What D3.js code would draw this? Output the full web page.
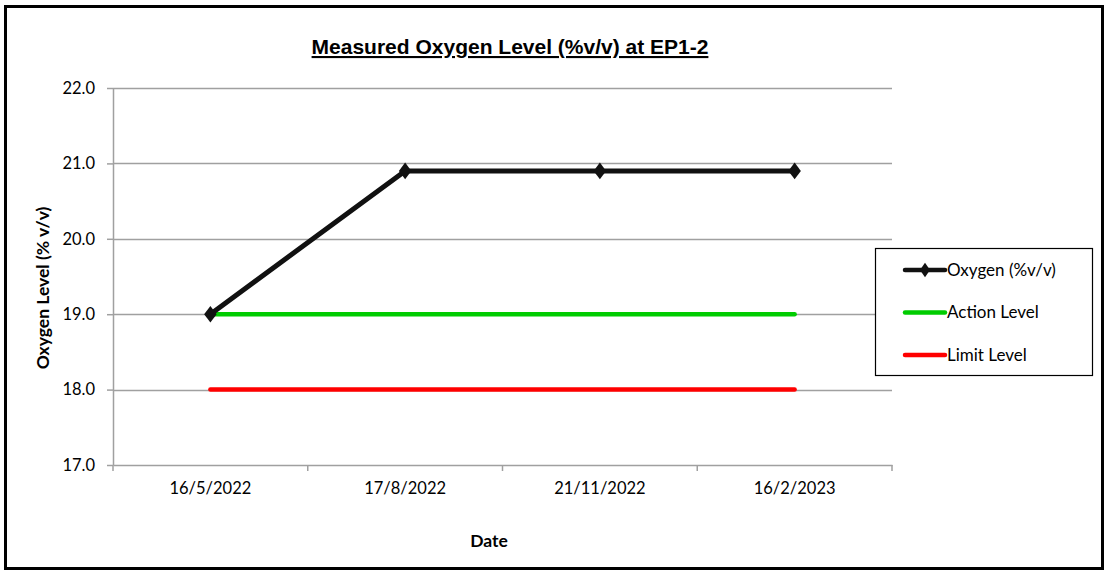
<!DOCTYPE html>
<html>
<head>
<meta charset="utf-8">
<script src="https://cdn.jsdelivr.net/npm/d3@7"></script>
<style>
  body { margin: 0; background: #fff; }
  text { fill: #000; }
</style>
</head>
<body>
<div id="chart"></div>
<script>
// Data
var dates = ["16/5/2022", "17/8/2022", "21/11/2022", "16/2/2023"];
var oxygen = [19.0, 20.9, 20.9, 20.9];
var actionLevel = [19.0, 19.0, 19.0, 19.0];
var limitLevel = [18.0, 18.0, 18.0, 18.0];
var yTicks = [17.0, 18.0, 19.0, 20.0, 21.0, 22.0];
var legendLabels = ["Oxygen (%v/v)", "Action Level", "Limit Level"];

var width = 1105, height = 572;
var plot = {left: 113, right: 892, top: 88, bottom: 465};
var bodyFont = "Lato, 'Open Sans', sans-serif";

var svg = d3.select("#chart").append("svg")
  .attr("width", width)
  .attr("height", height);

// outer frame
svg.append("rect")
  .attr("x", 5.5).attr("y", 6.5)
  .attr("width", 1097).attr("height", 562)
  .attr("fill", "#fff")
  .attr("stroke", "#000")
  .attr("stroke-width", 3);

var x = d3.scaleBand().domain(dates).range([plot.left, plot.right]);
var y = d3.scaleLinear().domain([17, 22]).range([plot.bottom, plot.top]);

// gridlines
svg.append("g")
  .selectAll("line")
  .data(yTicks.filter(function(d){ return d > 17; }))
  .enter().append("line")
  .attr("x1", plot.left).attr("x2", plot.right)
  .attr("y1", function(d){ return Math.round(y(d)) + 0.5; })
  .attr("y2", function(d){ return Math.round(y(d)) + 0.5; })
  .attr("stroke", "#a0a0a0")
  .attr("stroke-width", 1.5);

// y axis
var yAxis = d3.axisLeft(y).tickValues(yTicks).tickFormat(d3.format(".1f")).tickSize(6).tickSizeOuter(0);
var gy = svg.append("g")
  .attr("transform", "translate(" + plot.left + ",0)")
  .call(yAxis);
gy.select(".domain").attr("stroke", "#a0a0a0").attr("stroke-width", 1.5);
gy.selectAll(".tick line").attr("stroke", "#a0a0a0").attr("stroke-width", 1.5);
gy.selectAll(".tick text").attr("x", -18).attr("font-family", bodyFont).attr("font-size", 16.5).attr("fill", "#000");

// x axis
var xAxis = d3.axisBottom(x).tickSize(0).tickSizeOuter(0);
var gx = svg.append("g")
  .attr("transform", "translate(0," + plot.bottom + ")")
  .call(xAxis);
gx.select(".domain").attr("stroke", "#a0a0a0").attr("stroke-width", 1.5);
gx.selectAll(".tick text").attr("dy", "1.6em").attr("font-family", bodyFont).attr("font-size", 16.5).attr("fill", "#000");

// x tick marks at band edges
var edges = dates.map(function(d){ return x(d); }).concat([plot.right]);
svg.append("g").selectAll("line")
  .data(edges)
  .enter().append("line")
  .attr("x1", function(d){ return d; }).attr("x2", function(d){ return d; })
  .attr("y1", plot.bottom).attr("y2", plot.bottom + 6)
  .attr("stroke", "#a0a0a0")
  .attr("stroke-width", 1.5);

function cx(d){ return x(d) + x.bandwidth() / 2; }

var line = d3.line()
  .x(function(d, i){ return cx(dates[i]); })
  .y(function(d){ return y(d); });

svg.append("path").datum(limitLevel)
  .attr("d", line).attr("fill", "none")
  .attr("stroke", "#ff0000").attr("stroke-width", 4.5).attr("stroke-linecap", "round");

svg.append("path").datum(actionLevel)
  .attr("d", line).attr("fill", "none")
  .attr("stroke", "#00cc00").attr("stroke-width", 4.5).attr("stroke-linecap", "round");

svg.append("path").datum(oxygen)
  .attr("d", line).attr("fill", "none")
  .attr("stroke", "#111").attr("stroke-width", 5).attr("stroke-linejoin", "round");

var diamond = d3.symbol().type(d3.symbolDiamond).size(80);
svg.append("g").selectAll("path")
  .data(oxygen)
  .enter().append("path")
  .attr("d", diamond)
  .attr("transform", function(d, i){ return "translate(" + cx(dates[i]) + "," + y(d) + ") scale(1.3,1)"; })
  .attr("fill", "#111");

// title
svg.append("text")
  .attr("x", 510).attr("y", 54)
  .attr("text-anchor", "middle")
  .attr("font-family", "'Liberation Sans', Arial, sans-serif")
  .attr("font-weight", "bold")
  .attr("font-size", 21)
  .attr("text-decoration", "underline")
  .text("Measured Oxygen Level (%v/v) at EP1-2");

// axis titles
svg.append("text")
  .attr("transform", "translate(49,288) rotate(-90)")
  .attr("text-anchor", "middle")
  .attr("font-family", bodyFont)
  .attr("font-weight", "bold")
  .attr("font-size", 17.5)
  .text("Oxygen Level (% v/v)");

svg.append("text")
  .attr("x", 489).attr("y", 547)
  .attr("text-anchor", "middle")
  .attr("font-family", bodyFont)
  .attr("font-weight", "bold")
  .attr("font-size", 17.5)
  .text("Date");

// legend
var legend = svg.append("g");
legend.append("rect")
  .attr("x", 875.5).attr("y", 248.5)
  .attr("width", 217).attr("height", 127)
  .attr("fill", "#fff")
  .attr("stroke", "#000")
  .attr("stroke-width", 1.2);

var legendColors = ["#111", "#00cc00", "#ff0000"];
var items = legend.selectAll(".item")
  .data(legendLabels)
  .enter().append("g")
  .attr("class", "item")
  .attr("transform", function(d, i){ return "translate(0," + (270 + i * 42.5) + ")"; });

items.append("line")
  .attr("x1", 905).attr("x2", 945)
  .attr("y1", 0).attr("y2", 0)
  .attr("stroke", function(d, i){ return legendColors[i]; })
  .attr("stroke-width", 4.5)
  .attr("stroke-linecap", "round");

items.filter(function(d, i){ return i === 0; })
  .append("path")
  .attr("d", d3.symbol().type(d3.symbolDiamond).size(60))
  .attr("transform", "translate(925,0) scale(1.2,1)")
  .attr("fill", "#111");

items.append("text")
  .attr("x", 947).attr("y", 0)
  .attr("dy", "0.35em")
  .attr("font-family", bodyFont)
  .attr("font-size", 17)
  .text(function(d){ return d; });
</script>
</body>
</html>
